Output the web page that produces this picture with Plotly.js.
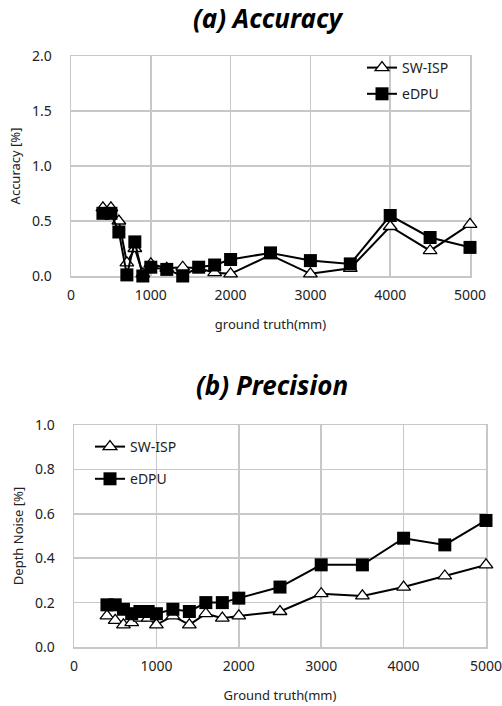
<!DOCTYPE html>
<html>
<head>
<meta charset="utf-8">
<script src="https://cdn.plot.ly/plotly-3.0.1.min.js"></script>
<style>html,body{margin:0;padding:0;background:#fff;}#chart{width:502px;height:706px;}</style>
</head>
<body>
<div id="chart"></div>
<script>
// ground truth distances (mm)
const groundTruth = [400, 500, 600, 700, 800, 900, 1000, 1200, 1400, 1600, 1800, 2000, 2500, 3000, 3500, 4000, 4500, 5000];
// (a) Accuracy [%]
const accSWISP = [0.62, 0.62, 0.50, 0.12, 0.25, 0.02, 0.11, 0.07, 0.08, 0.07, 0.03, 0.02, 0.19, 0.02, 0.07, 0.45, 0.23, 0.47];
const accEDPU  = [0.57, 0.57, 0.40, 0.01, 0.31, 0.00, 0.08, 0.06, 0.00, 0.08, 0.10, 0.15, 0.21, 0.14, 0.11, 0.55, 0.35, 0.26];
// (b) Precision: Depth Noise [%]
const noiseSWISP = [0.14, 0.12, 0.10, 0.11, 0.13, 0.13, 0.10, 0.14, 0.10, 0.15, 0.13, 0.14, 0.16, 0.24, 0.23, 0.27, 0.32, 0.37];
const noiseEDPU  = [0.19, 0.19, 0.17, 0.15, 0.16, 0.16, 0.15, 0.17, 0.16, 0.20, 0.20, 0.22, 0.27, 0.37, 0.37, 0.49, 0.46, 0.57];
const seriesNames = ['SW-ISP', 'eDPU'];
const xTicks = [0, 1000, 2000, 3000, 4000, 5000];

const W = 502, H = 706;
const FONT = 'Noto Sans, Open Sans, sans-serif';
const lineStyle = {color: '#000', width: 2};
const triMarker = {symbol: 'triangle-up', size: 12, color: '#fff', line: {color: '#000', width: 1.3}};
const sqMarker = {symbol: 'square', size: 13, color: '#000', line: {color: '#000', width: 0}};

const traces = [
  {x: groundTruth, y: accSWISP, name: seriesNames[0], mode: 'lines+markers', line: lineStyle, marker: triMarker, xaxis: 'x', yaxis: 'y', legend: 'legend', legendgroup: 'a1', cliponaxis: false},
  {x: groundTruth, y: accEDPU, name: seriesNames[1], mode: 'lines+markers', line: lineStyle, marker: sqMarker, xaxis: 'x', yaxis: 'y', legend: 'legend', legendgroup: 'a2', cliponaxis: false},
  {x: groundTruth, y: noiseSWISP, name: seriesNames[0], mode: 'lines+markers', line: lineStyle, marker: triMarker, xaxis: 'x2', yaxis: 'y2', legend: 'legend2', legendgroup: 'b1', cliponaxis: false},
  {x: groundTruth, y: noiseEDPU, name: seriesNames[1], mode: 'lines+markers', line: lineStyle, marker: sqMarker, xaxis: 'x2', yaxis: 'y2', legend: 'legend2', legendgroup: 'b2', cliponaxis: false}
];

const gridC = '#c8c8c8';
const tickFont = {family: FONT, size: 14, color: '#222'};
const titleFont = {family: FONT, size: 13, color: '#222'};
function xax(dom, anchor, title) {
  return {domain: dom, anchor: anchor, range: [0, 5000], tickvals: xTicks, ticktext: xTicks.map(String),
    showgrid: true, gridcolor: gridC, gridwidth: 1.5, showline: true, linecolor: gridC, linewidth: 1.5, mirror: true,
    zeroline: false, ticks: '', tickfont: tickFont, ticklabelstandoff: 6, ticklabeloverflow: 'allow', layer: 'below traces',
    title: {text: title, font: titleFont, standoff: 16}, fixedrange: true};
}
function yax(dom, anchor, range, dtick, title) {
  return {domain: dom, anchor: anchor, range: range, dtick: dtick, tick0: 0, tickformat: '.1f',
    showgrid: true, gridcolor: gridC, gridwidth: 1.5, showline: true, linecolor: gridC, linewidth: 1.5, mirror: true,
    zeroline: false, ticks: '', tickfont: tickFont, ticklabelstandoff: 15, ticklabeloverflow: 'allow', layer: 'below traces',
    title: {text: title, font: titleFont, standoff: 8}, fixedrange: true};
}

const layout = {
  width: W, height: H, margin: {l: 0, r: 0, t: 0, b: 0}, paper_bgcolor: '#fff', plot_bgcolor: '#fff',
  xaxis: xax([71 / W, 470 / W], 'y', 'ground truth(mm)'),
  yaxis: yax([1 - 276 / H, 1 - 56 / H], 'x', [0, 2.0], 0.5, 'Accuracy [%]'),
  xaxis2: xax([74 / W, 486 / W], 'y2', 'Ground truth(mm)'),
  yaxis2: yax([1 - 647 / H, 1 - 425 / H], 'x2', [0, 1.0], 0.2, 'Depth Noise [%]'),
  legend: {x: 362 / W, y: 1 - 52 / H, xanchor: 'left', yanchor: 'top', bgcolor: 'rgba(0,0,0,0)',
    font: {family: FONT, size: 14, color: '#222'}, itemwidth: 30, tracegroupgap: 5},
  legend2: {x: 90 / W, y: 1 - 431 / H, xanchor: 'left', yanchor: 'top', bgcolor: 'rgba(0,0,0,0)',
    font: {family: FONT, size: 14, color: '#222'}, itemwidth: 30, tracegroupgap: 11},
  annotations: [
    {text: '<b><i>(a) Accuracy</i></b>', x: 268 / W, y: 1 - 18 / H, xref: 'paper', yref: 'paper', showarrow: false,
      font: {family: FONT, size: 26, color: '#000'}, xanchor: 'center', yanchor: 'middle'},
    {text: '<b><i>(b) Precision</i></b>', x: 272 / W, y: 1 - 385 / H, xref: 'paper', yref: 'paper', showarrow: false,
      font: {family: FONT, size: 26, color: '#000'}, xanchor: 'center', yanchor: 'middle'}
  ],
  showlegend: true
};

Plotly.newPlot('chart', traces, layout, {displayModeBar: false, staticPlot: true});
</script>
</body>
</html>
